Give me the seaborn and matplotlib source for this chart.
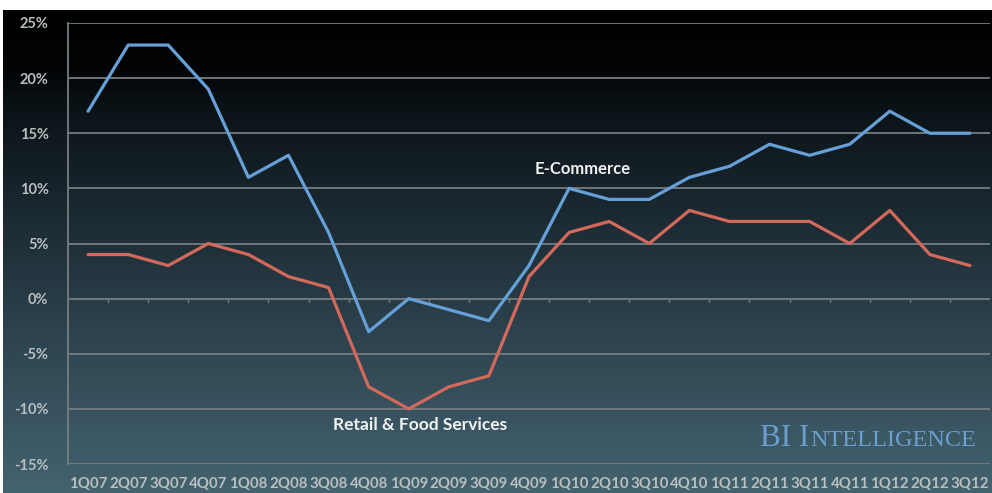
import numpy as np
import pandas as pd
import matplotlib
matplotlib.use("Agg")
import matplotlib.pyplot as plt
import seaborn as sns
from matplotlib.colors import LinearSegmentedColormap
from matplotlib.offsetbox import TextArea, HPacker, AnchoredOffsetbox

quarters = ["1Q07", "2Q07", "3Q07", "4Q07", "1Q08", "2Q08", "3Q08", "4Q08",
            "1Q09", "2Q09", "3Q09", "4Q09", "1Q10", "2Q10", "3Q10", "4Q10",
            "1Q11", "2Q11", "3Q11", "4Q11", "1Q12", "2Q12", "3Q12"]
ecommerce = [17, 23, 23, 19, 11, 13, 6, -3, 0, -1, -2, 3, 10, 9, 9, 11,
             12, 14, 13, 14, 17, 15, 15]
retail = [4, 4, 3, 5, 4, 2, 1, -8, -10, -8, -7, 2, 6, 7, 5, 8,
          7, 7, 7, 5, 8, 4, 3]
yticks = [-15, -10, -5, 0, 5, 10, 15, 20, 25]

sns.set_theme(style="white")
plt.rcParams['font.family'] = ['Lato', 'DejaVu Sans']

W, H = 992, 493
fig = plt.figure(figsize=(W / 100, H / 100), dpi=100, facecolor="white")

# gradient background
bg = fig.add_axes([3 / W, 0, 1 - 3 / W, 1 - 10 / H], zorder=0)
cmap = LinearSegmentedColormap.from_list(
    "bg", [(0.0, "#000000"), (0.12, "#020405"), (0.2, "#0a1216"),
           (0.42, "#1b2931"), (0.7, "#2f4652"), (1.0, "#43636f")])
grad = np.linspace(0, 1, 256).reshape(-1, 1)
bg.imshow(grad, aspect="auto", cmap=cmap, extent=[0, 1, 0, 1])
bg.set_axis_off()

ax = fig.add_axes([68 / W, 1 - 464 / H, (990 - 68) / W, (464 - 23) / H], zorder=1)
ax.patch.set_alpha(0)

df = pd.DataFrame({"pos": np.arange(len(quarters)), "E-Commerce": ecommerce,
                   "Retail & Food Services": retail})
long = df.melt(id_vars="pos", var_name="series", value_name="value")
sns.lineplot(data=long, x="pos", y="value", hue="series",
             palette={"E-Commerce": "#66a0d8", "Retail & Food Services": "#d2695a"},
             linewidth=2.3, ax=ax, legend=False, zorder=3)

ax.set_xlim(-0.5, len(quarters) - 0.5)
ax.set_ylim(-15, 25)
ax.set_yticks(yticks)
ax.set_yticklabels([f"{v}%" for v in yticks])
ax.set_xticks(np.arange(len(quarters)))
ax.set_xticklabels(quarters)
ax.set_xlabel("")
ax.set_ylabel("")

for v in yticks:
    ax.axhline(v, color="#767d80", linewidth=1.3, zorder=1)
for s in ["top", "right", "bottom"]:
    ax.spines[s].set_visible(False)
ax.spines["left"].set_color("#767d80")
ax.spines["left"].set_linewidth(1.3)

ax.tick_params(axis="y", length=5, width=1.3, color="#767d80", pad=9,
               labelsize=10.5, labelcolor="#b9bec0")
ax.tick_params(axis="x", length=0, pad=9, labelsize=10.8, labelcolor="#b9bec0")
for lab in ax.get_yticklabels() + ax.get_xticklabels():
    lab.set_fontweight("bold")

# small category tick marks on the zero line
for b in np.arange(0.5, len(quarters) - 0.5, 1):
    ax.plot([b, b], [-0.35, 0], color="#767d80", linewidth=1.0, zorder=1)

ax.text(11.15, 11.8, "E-Commerce", color="#f2f2f2", fontsize=12,
        fontweight="bold", ha="left", va="center", zorder=4)
ax.text(6.1, -11.5, "Retail & Food Services", color="#f2f2f2", fontsize=12.5,
        fontweight="bold", ha="left", va="center", zorder=4)

# BI Intelligence logo
ta1 = TextArea("BI I", textprops=dict(color="#6a9fcf", fontsize=22.5,
                                       family="Liberation Serif"))
ta2 = TextArea("NTELLIGENCE", textprops=dict(color="#6a9fcf", fontsize=17.5,
                                              family="Liberation Serif"))
pack = HPacker(children=[ta1, ta2], align="baseline", pad=0, sep=1)
anch = AnchoredOffsetbox(loc="center", child=pack, frameon=False,
                         bbox_to_anchor=(868 / W, 1 - 438 / H),
                         bbox_transform=fig.transFigure, pad=0, borderpad=0)
ax.add_artist(anch)

fig.savefig("out.png", dpi=100, facecolor="white")
